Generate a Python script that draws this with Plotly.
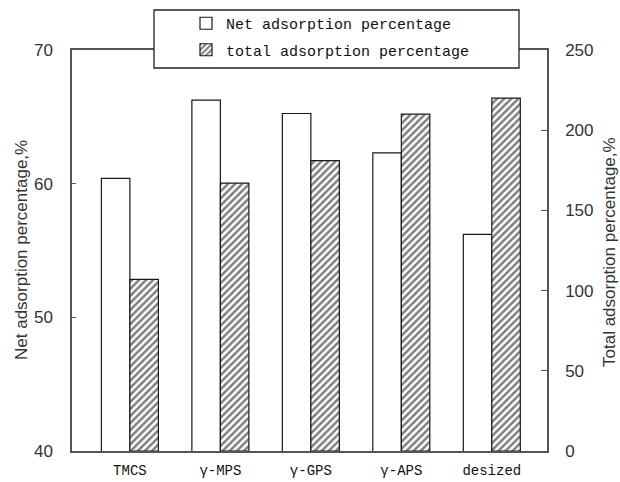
import plotly.graph_objects as go

categories = ["TMCS", "γ-MPS", "γ-GPS", "γ-APS", "desized"]
net_adsorption = [60.4, 66.25, 65.25, 62.3, 56.2]
total_adsorption = [107, 167, 181, 210, 220]
left_ticks = [40, 50, 60, 70]
right_ticks = [0, 50, 100, 150, 200, 250]

bar_w = 0.315
mono = "Liberation Mono"
sans = "Liberation Sans"

fig = go.Figure()
fig.add_trace(go.Bar(
    x=categories, y=net_adsorption, name="Net adsorption percentage",
    width=bar_w, offset=-bar_w, yaxis="y", legendgroup="net",
    marker=dict(color="white", line=dict(color="#1a1a1a", width=1.2)),
))
fig.add_trace(go.Bar(
    x=categories, y=total_adsorption, name="total adsorption percentage",
    width=bar_w, offset=0, yaxis="y2", legendgroup="total",
    marker=dict(color="white", line=dict(color="#1a1a1a", width=1.2),
                pattern=dict(shape="/", fgcolor="black", bgcolor="white",
                             size=5, solidity=0.5)),
))

W, H = 620, 482
L, R, T, B = 72, 73, 50, 31
pw = W - L - R
ph = H - T - B

def px_x(px):
    return (px - L) / pw

def px_y(py):
    return (H - B - py) / ph

fig.update_layout(
    width=W, height=H,
    margin=dict(l=L, r=R, t=T, b=B, autoexpand=False),
    paper_bgcolor="white", plot_bgcolor="white",
    barmode="overlay",
    showlegend=True,
    legend=dict(x=px_x(186), y=px_y(7), xanchor="left", yanchor="top",
                bgcolor="rgba(0,0,0,0)", borderwidth=0,
                font=dict(family=mono, size=15, color="#111"),
                tracegroupgap=4),
    xaxis=dict(type="category", range=[-0.64, 4.61],
               showline=True, linecolor="#555", linewidth=1.5, mirror=True,
               ticks="", showgrid=False, zeroline=False,
               tickfont=dict(family=mono, size=14, color="#111"),
               ticklabelstandoff=5),
    yaxis=dict(range=[40, 70], tickvals=left_ticks, showgrid=False, zeroline=False,
               showline=True, linecolor="#555", linewidth=1.5,
               ticks="inside", ticklen=4, tickcolor="#555",
               tickfont=dict(family=sans, size=17, color="#333"),
               ticklabelstandoff=14),
    yaxis2=dict(range=[0, 250], tickvals=right_ticks, overlaying="y", side="right",
                showgrid=False, zeroline=False,
                showline=True, linecolor="#555", linewidth=1.5,
                ticks="inside", ticklen=6, tickcolor="#555",
                tickfont=dict(family=sans, size=17, color="#333"),
                ticklabelstandoff=13),
    shapes=[dict(type="rect", xref="paper", yref="paper",
                 x0=px_x(154), x1=px_x(519), y0=px_y(68), y1=px_y(10),
                 fillcolor="white", line=dict(color="#222", width=1.3),
                 layer="above")],
    annotations=[
        dict(text="Net adsorption percentage,%", xref="paper", yref="paper",
             x=px_x(21), y=px_y(250), textangle=-90, showarrow=False,
             xanchor="center", yanchor="middle",
             font=dict(family=sans, size=17, color="#333")),
        dict(text="Total adsorption percentage,%", xref="paper", yref="paper",
             x=px_x(610), y=px_y(252), textangle=-90, showarrow=False,
             xanchor="center", yanchor="middle",
             font=dict(family=sans, size=17, color="#333")),
    ],
)

fig.write_html("out.html", config={"displayModeBar": False},
               post_script="document.body.style.margin='0';")
